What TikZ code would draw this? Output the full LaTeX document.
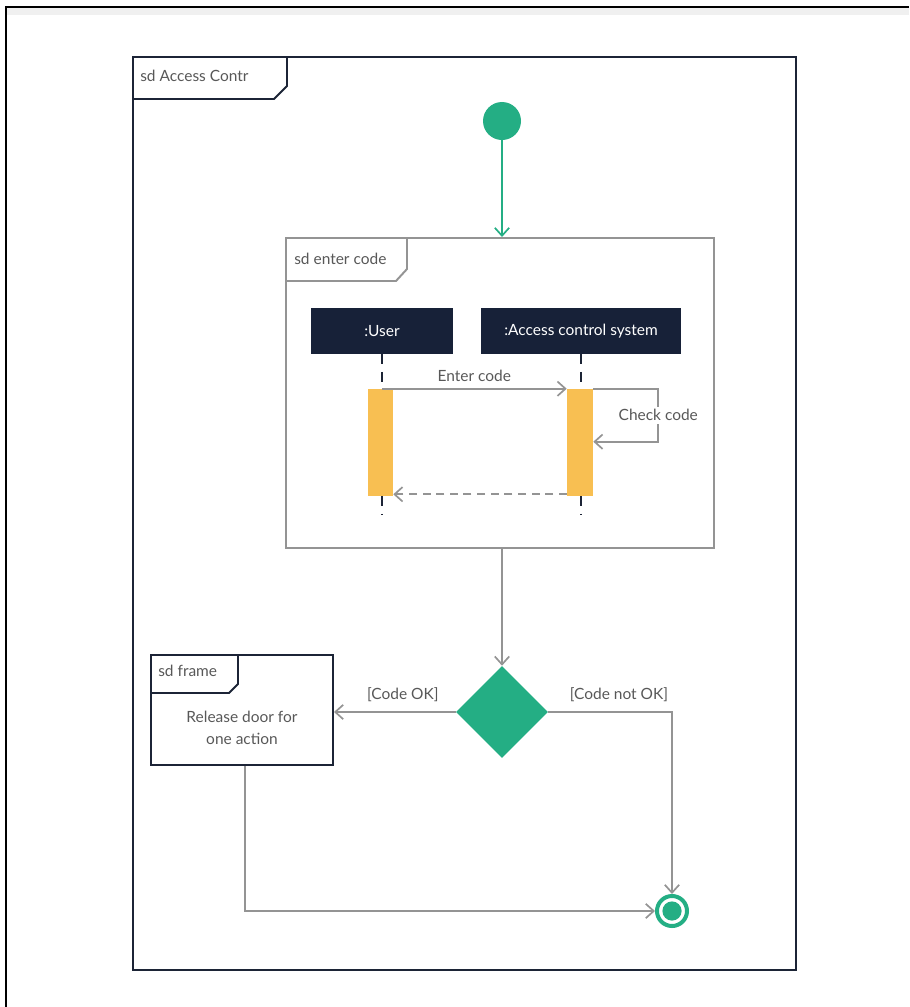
\documentclass[tikz,border=0pt]{standalone}
\usepackage{fontspec}
\setmainfont{Lato}
\usetikzlibrary{arrows.meta, positioning, shapes.geometric, fit, calc}

\definecolor{navy}{RGB}{28,36,54}
\definecolor{headfill}{RGB}{23,33,56}
\definecolor{umlgreen}{RGB}{36,174,132}
\definecolor{barfill}{RGB}{248,191,82}
\definecolor{lien}{RGB}{148,148,148}
\definecolor{texte}{RGB}{88,88,88}

\begin{document}
\begin{tikzpicture}[
  x=0.025cm, y=-0.025cm,
  font=\fontsize{11}{13.5}\selectfont,
  cadre/.style={draw=navy, line width=1.4pt, inner sep=0pt},
  cadregris/.style={draw=lien, line width=1.4pt, inner sep=0pt},
  onglet/.style={text=texte, anchor=west, inner sep=0pt},
  entete/.style={fill=headfill, text=white, inner sep=0pt, minimum height=1.15cm},
  barre/.style={fill=barfill, inner sep=0pt},
  vie/.style={draw=navy, line width=1.3pt, dash pattern=on 2.4mm off 2mm},
  msg/.style={
    draw=lien, line width=1.2pt,
    -{Straight Barb[length=2mm, width=3.6mm, line width=1.2pt]}
  },
  retour/.style={msg, dash pattern=on 2mm off 1.4mm},
  flux/.style={msg},
  fluxvert/.style={msg, draw=umlgreen},
  garde/.style={text=texte, inner sep=2pt},
  debut/.style={circle, fill=umlgreen, minimum size=0.95cm, inner sep=0pt},
  choix/.style={diamond, fill=umlgreen, minimum width=2.3cm, minimum height=2.3cm, inner sep=0pt},
  finanneau/.style={circle, draw=umlgreen, line width=1mm, fill=white, minimum size=0.75cm, inner sep=0pt},
  finpoint/.style={circle, fill=umlgreen, minimum size=0.48cm, inner sep=0pt}
]
\useasboundingbox (0,0) rectangle (909,1007);

% Bord de la capture
\fill[black!6] (7,8) rectangle (909,15);
\draw[black, line width=1.3pt] (6,1007) -- (6,7) -- (909,7);

% Cadre principal
\node[cadre, fit={(133,57) (796,970)}] (main) {};
\draw[navy, line width=1.4pt] (133,99) -- (274,99) -- (287,86) -- (287,57);
\node[onglet] (mainlbl) at (140,76) {sd Access Contr};

% Etat initial
\node[debut] (start) at (502,121) {};

% Cadre "sd enter code"
\node[cadregris, fit={(286,238) (714,548)}] (enter) {};
\draw[lien, line width=1.4pt] (286,281) -- (396,281) -- (407,269) -- (407,238);
\node[onglet] (enterlbl) at (294,259) {sd enter code};

% Lignes de vie
\node[entete, minimum width=3.55cm] (user) at (382,331) {:User};
\node[entete, minimum width=5cm] (acs) at (581,331) {:Access control system};
\node[barre, fit={(368,389) (393,496)}] (useract) {};
\node[barre, fit={(567,389) (593,496)}] (acsact) {};
\draw[vie] (user.south) -- (user.south |- useract.north);
\draw[vie] (acs.south) -- (acs.south |- acsact.north);
\draw[vie] (user.south |- useract.south) -- ++(0,19);
\draw[vie] (acs.south |- acsact.south) -- ++(0,19);

% Messages
\draw[msg] (user.south |- useract.north) -- (acsact.north west)
  node[midway, above=1pt, text=texte] {Enter code};
\draw[msg] (acsact.north east) -- ++(65,0)
  -- node[fill=white, text=texte, inner sep=2pt] {Check code} ++(0,53)
  -- ($(acsact.north east)+(0,53)$);
\draw[retour] ([yshift=0.05cm]acsact.south west) -- ([yshift=0.05cm]useract.south east);

% Decision
\node[choix] (dec) at (502,712) {};
\node[cadre, fit={(151,655) (333,765)}] (release) {};
\draw[navy, line width=1.4pt] (151,693) -- (229,693) -- (238,684) -- (238,655);
\node[onglet] (relbl) at (158,671) {sd frame};
\node[text=texte, align=center, font=\fontsize{11}{16}\selectfont] (reltxt) at (242,728) {Release door for\\one action};

% Etat final
\node[finanneau] (end) at (672,911) {};
\node[finpoint] (endpt) at (end) {};

% Transitions
\draw[fluxvert] (start) -- (start |- enter.north);
\draw[flux] (dec.north |- enter.south) -- (dec.north);
\draw[flux] (dec.west) -- (release.east |- dec.west)
  node[midway, above=5pt, xshift=0.2cm, garde] {[Code OK]};
\draw[flux] (dec.east) -| (end.north)
  node[pos=0.25, above=5pt, xshift=0.22cm, garde] {[Code not OK]};
\draw[flux] ([xshift=0.08cm]release.south) |- (end.west);

\end{tikzpicture}
\end{document}
